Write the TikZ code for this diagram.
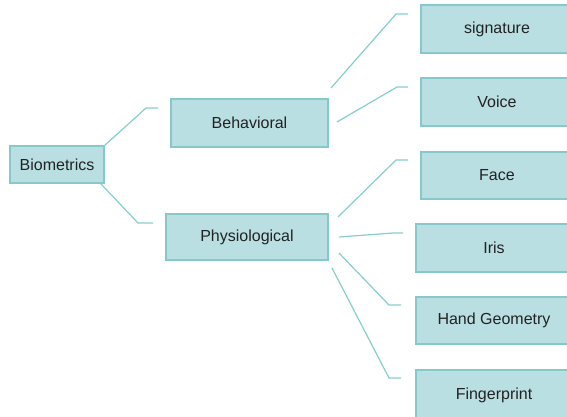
\documentclass[tikz,border=0pt]{standalone}
\usepackage{fontspec}
\setmainfont{Liberation Sans}
\definecolor{boxfill}{HTML}{B9DFE2}
\definecolor{boxline}{HTML}{86C9CD}
\definecolor{conn}{HTML}{86CECE}
\definecolor{txt}{HTML}{222222}
\def\pxu{0.75pt}
\tikzset{
  box/.style={draw=boxline, line width=0.8pt, fill=boxfill, text=txt, inner sep=0pt,
    font=\fontsize{12}{14}\selectfont},
  link/.style={draw=conn, line width=0.9pt}
}
\begin{document}
\begin{tikzpicture}[x=0.75pt, y=-0.75pt]
\useasboundingbox (0,0) rectangle (567,417);
\clip (0,0) rectangle (567,417);
% nodes
\node[box, minimum width=94*\pxu, minimum height=37*\pxu] (bio) at (57,164.5) {Biometrics};
\node[box, minimum width=157*\pxu, minimum height=48*\pxu] (beh) at (249.5,123) {Behavioral};
\node[box, minimum width=162*\pxu, minimum height=46*\pxu] (phy) at (247,237) {Physiological};
\node[box, minimum width=152*\pxu, minimum height=48*\pxu] (sig) at (497,29) {signature};
\node[box, minimum width=152*\pxu, minimum height=48*\pxu] (voi) at (497,102) {Voice};
\node[box, minimum width=152*\pxu, minimum height=47*\pxu] (fac) at (497,175.5) {Face};
\node[box, minimum width=156*\pxu, minimum height=48*\pxu] (iri) at (494,248) {Iris};
\node[box, minimum width=156*\pxu, minimum height=47*\pxu] (han) at (494,320.5) {Hand Geometry};
\node[box, minimum width=156*\pxu, minimum height=50*\pxu] (fin) at (494,395) {Fingerprint};
% connector points
\coordinate (a1) at (104,146); \coordinate (a2) at (146,108); \coordinate (a3) at (158,108);
\coordinate (b1) at (101,184); \coordinate (b2) at (138,223); \coordinate (b3) at (153,223);
\coordinate (c1) at (331,88);  \coordinate (c2) at (396,14);  \coordinate (c3) at (408,14);
\coordinate (d1) at (337,122); \coordinate (d2) at (397,87);  \coordinate (d3) at (408,87);
\coordinate (e1) at (338,217); \coordinate (e2) at (396,160); \coordinate (e3) at (408,160);
\coordinate (f1) at (339,237); \coordinate (f2) at (393,233); \coordinate (f3) at (403,233);
\coordinate (g1) at (339,253); \coordinate (g2) at (389,305); \coordinate (g3) at (401,305);
\coordinate (h1) at (332,268); \coordinate (h2) at (389,378); \coordinate (h3) at (401,378);
\draw[link] (a1) -- (a2) -- (a3);
\draw[link] (b1) -- (b2) -- (b3);
\draw[link] (c1) -- (c2) -- (c3);
\draw[link] (d1) -- (d2) -- (d3);
\draw[link] (e1) -- (e2) -- (e3);
\draw[link] (f1) -- (f2) -- (f3);
\draw[link] (g1) -- (g2) -- (g3);
\draw[link] (h1) -- (h2) -- (h3);
\end{tikzpicture}
\end{document}
